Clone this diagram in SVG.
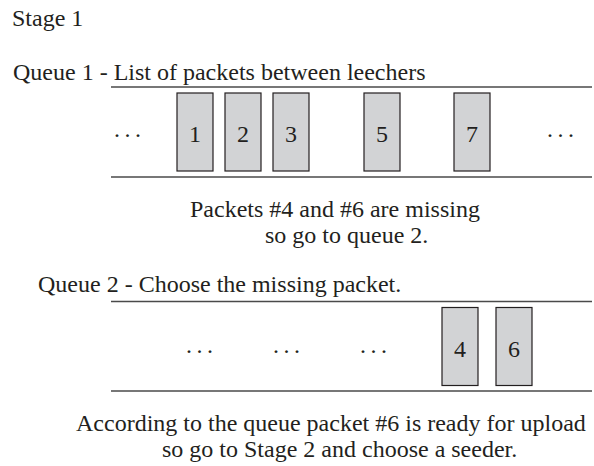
<svg xmlns="http://www.w3.org/2000/svg" width="594" height="466" viewBox="0 0 594 466">
<style>
text{font-family:"Liberation Serif","Times New Roman",serif;font-size:24px;fill:#231f20}
.num{text-anchor:middle}
.dots{letter-spacing:2.5px}
.pkt{fill:#d2d3d5;stroke:#231f20;stroke-width:1.2}
.rule{stroke:#4a4a4a;stroke-width:1.6;fill:none}
</style>
<rect width="594" height="466" fill="#fff"/>
<text x="12" y="26">Stage 1</text>
<g id="queue1">
<text x="13" y="80">Queue 1 - List of packets between leechers</text>
<g id="q1-lines" class="connectors">
<line class="rule" x1="111" y1="87" x2="592" y2="87"/>
<line class="rule" x1="111" y1="177" x2="592" y2="177"/>
</g>
<text class="dots" x="113" y="142.5">···</text>
<g id="p1"><rect class="pkt" x="177" y="93" width="36" height="78"/><text class="num" x="195" y="142">1</text></g>
<g id="p2"><rect class="pkt" x="225" y="93" width="36" height="78"/><text class="num" x="243" y="142">2</text></g>
<g id="p3"><rect class="pkt" x="273" y="93" width="36" height="78"/><text class="num" x="291" y="142">3</text></g>
<g id="p5"><rect class="pkt" x="364" y="93" width="36" height="78"/><text class="num" x="382" y="142">5</text></g>
<g id="p7"><rect class="pkt" x="454" y="93" width="36" height="78"/><text class="num" x="472" y="142">7</text></g>
<text class="dots" x="546" y="142.5">···</text>
</g>
<text x="190" y="216.5">Packets #4 and #6 are missing</text>
<text x="265" y="243">so go to queue 2.</text>
<g id="queue2">
<text x="38" y="292">Queue 2 - Choose the missing packet.</text>
<g id="q2-lines" class="connectors">
<line class="rule" x1="111" y1="301.5" x2="592" y2="301.5"/>
<line class="rule" x1="111" y1="391" x2="592" y2="391"/>
</g>
<text class="dots" x="185" y="358.5">···</text>
<text class="dots" x="272" y="358.5">···</text>
<text class="dots" x="359" y="358.5">···</text>
<g id="p4"><rect class="pkt" x="442" y="307.5" width="36" height="78"/><text class="num" x="460" y="357">4</text></g>
<g id="p6"><rect class="pkt" x="496" y="307.5" width="36" height="78"/><text class="num" x="514" y="357">6</text></g>
</g>
<text x="76" y="431">According to the queue packet #6 is ready for upload</text>
<text x="162" y="456.5">so go to Stage 2 and choose a seeder.</text>
</svg>
